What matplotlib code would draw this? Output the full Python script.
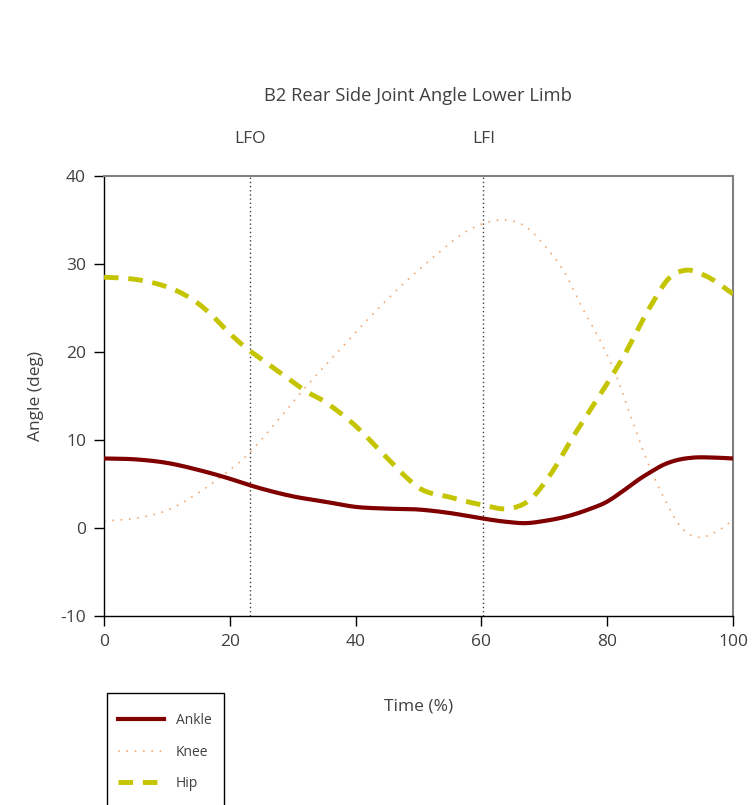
import matplotlib
matplotlib.use("Agg")
import matplotlib.pyplot as plt
from matplotlib.patches import Rectangle
import numpy as np

plt.rcParams['font.family'] = ['Open Sans', 'DejaVu Sans']
plt.rcParams['axes.unicode_minus'] = False

# Gait-cycle samples (% of cycle) and joint angles (deg)
ankle_t = [0, 5, 10, 15, 20, 23, 27, 30, 35, 40, 45, 50, 55, 60, 64, 67, 70, 73.5, 77, 80, 82.5, 85, 87, 89, 91, 93.7, 97, 100]
ankle_v = [7.9, 7.8, 7.4, 6.6, 5.6, 4.9, 4.1, 3.6, 3.0, 2.4, 2.2, 2.1, 1.7, 1.1, 0.7, 0.55, 0.8, 1.3, 2.1, 3.0, 4.2, 5.5, 6.4, 7.2, 7.7, 8.0, 8.0, 7.9]

knee_t = [0, 5, 10, 15, 20, 22.2, 27, 31.2, 36.5, 41.8, 47.1, 52.4, 57.6, 60.3, 63.5, 66.7, 70.4, 73, 76.2, 78.8, 81.5, 83.6, 86.3, 88.9, 92.1, 94.5, 97.4, 100]
knee_v = [0.8, 1.1, 2.0, 4.0, 6.6, 7.9, 11.7, 15.3, 19.5, 23.6, 27.4, 30.8, 33.7, 34.6, 35.0, 34.4, 31.8, 29.3, 24.8, 21.4, 17.2, 13.0, 7.7, 3.6, -0.2, -1.05, -0.4, 0.9]

hip_t = [0, 3, 7, 10, 12.3, 15, 17.4, 20, 22.7, 25, 27.5, 30, 32.2, 35, 37.5, 40, 42.8, 45.5, 48, 50, 55, 60.3, 64.3, 67.7, 70.9, 74.6, 78.3, 82.6, 86.8, 90, 92.6, 95.8, 100]
hip_v = [28.5, 28.4, 28.0, 27.4, 26.7, 25.5, 24.0, 22.1, 20.4, 19.2, 17.9, 16.6, 15.5, 14.4, 13.1, 11.6, 9.6, 7.6, 5.8, 4.6, 3.5, 2.6, 2.2, 3.2, 6.0, 10.4, 14.5, 19.5, 25.1, 28.5, 29.3, 28.6, 26.6]

events = ["LFO", "LFI"]
event_t = [23.2, 60.3]

x_ticks = [0, 20, 40, 60, 80, 100]
y_ticks = [-10, 0, 10, 20, 30, 40]


def smooth(t, v, n=400):
    # cubic Hermite resampling of the sample points
    t = np.asarray(t, float)
    v = np.asarray(v, float)
    m = np.gradient(v, t)
    tt = np.linspace(t[0], t[-1], n)
    out = np.empty_like(tt)
    for i, x in enumerate(tt):
        k = min(np.searchsorted(t, x, side='right') - 1, len(t) - 2)
        h = t[k + 1] - t[k]
        s = (x - t[k]) / h
        h00 = 2 * s**3 - 3 * s**2 + 1
        h10 = s**3 - 2 * s**2 + s
        h01 = -2 * s**3 + 3 * s**2
        h11 = s**3 - s**2
        out[i] = h00 * v[k] + h10 * h * m[k] + h01 * v[k + 1] + h11 * h * m[k + 1]
    return tt, out


W, H = 752, 805
fig = plt.figure(figsize=(W / 100, H / 100), dpi=100)
ax = fig.add_axes([104 / W, 1 - 616 / H, 629 / W, 440 / H])

text_col = '#404040'

for t in event_t:
    ax.axvline(t, color='#404040', lw=1.0, ls=(0, (1, 2)), zorder=1)

ln_ankle, = ax.plot(*smooth(ankle_t, ankle_v), color='#800000', lw=3.0, label='Ankle', zorder=3)
ln_knee, = ax.plot(*smooth(knee_t, knee_v), color='#F4A870', lw=1.2, ls=(0, (1, 4)), label='Knee', zorder=2)
ln_hip, = ax.plot(*smooth(hip_t, hip_v), color='#C4C400', lw=3.5, ls=(0, (3, 2)), label='Hip', zorder=4)

ax.set_xlim(0, 100)
ax.set_ylim(-10, 40)
ax.set_xticks(x_ticks)
ax.set_yticks(y_ticks)
ax.tick_params(axis='both', direction='out', length=7, width=1, colors='black',
               labelcolor=text_col, labelsize=12.5, pad=6)

for side in ['left', 'bottom']:
    ax.spines[side].set_color('black')
    ax.spines[side].set_linewidth(1.0)
for side in ['top', 'right']:
    ax.spines[side].set_color('#808080')
    ax.spines[side].set_linewidth(1.5)

ax.set_xlabel('Time (%)', fontsize=12.5, color=text_col, labelpad=35)
ax.set_ylabel('Angle (deg)', fontsize=12.5, color=text_col, labelpad=12)

for name, t in zip(events, event_t):
    ax.text(t, 1 + (176 - 139.5) / 440, name, transform=ax.get_xaxis_transform(),
            ha='center', va='center', fontsize=12.5, color=text_col)

fig.text(418 / W, 1 - 96 / H, 'B2 Rear Side Joint Angle Lower Limb', ha='center', va='center',
         fontsize=13.2, color=text_col)

# legend box (runs off the bottom edge of the page)
fig.patches.append(Rectangle((107 / W, -10 / H), 117 / W, (H - 693 + 10) / H,
                             transform=fig.transFigure, fill=False, edgecolor='black',
                             linewidth=1.0, zorder=5))

leg = fig.legend(handles=[ln_ankle, ln_knee, ln_hip], loc='upper left',
                 bbox_to_anchor=(118 / W, 1 - 713 / H), fontsize=10,
                 frameon=False, handlelength=3.3, labelspacing=1.2, borderpad=0.0,
                 handletextpad=0.86, borderaxespad=0)
for txt in leg.get_texts():
    txt.set_color(text_col)

fig.savefig('out.png', dpi=100)
